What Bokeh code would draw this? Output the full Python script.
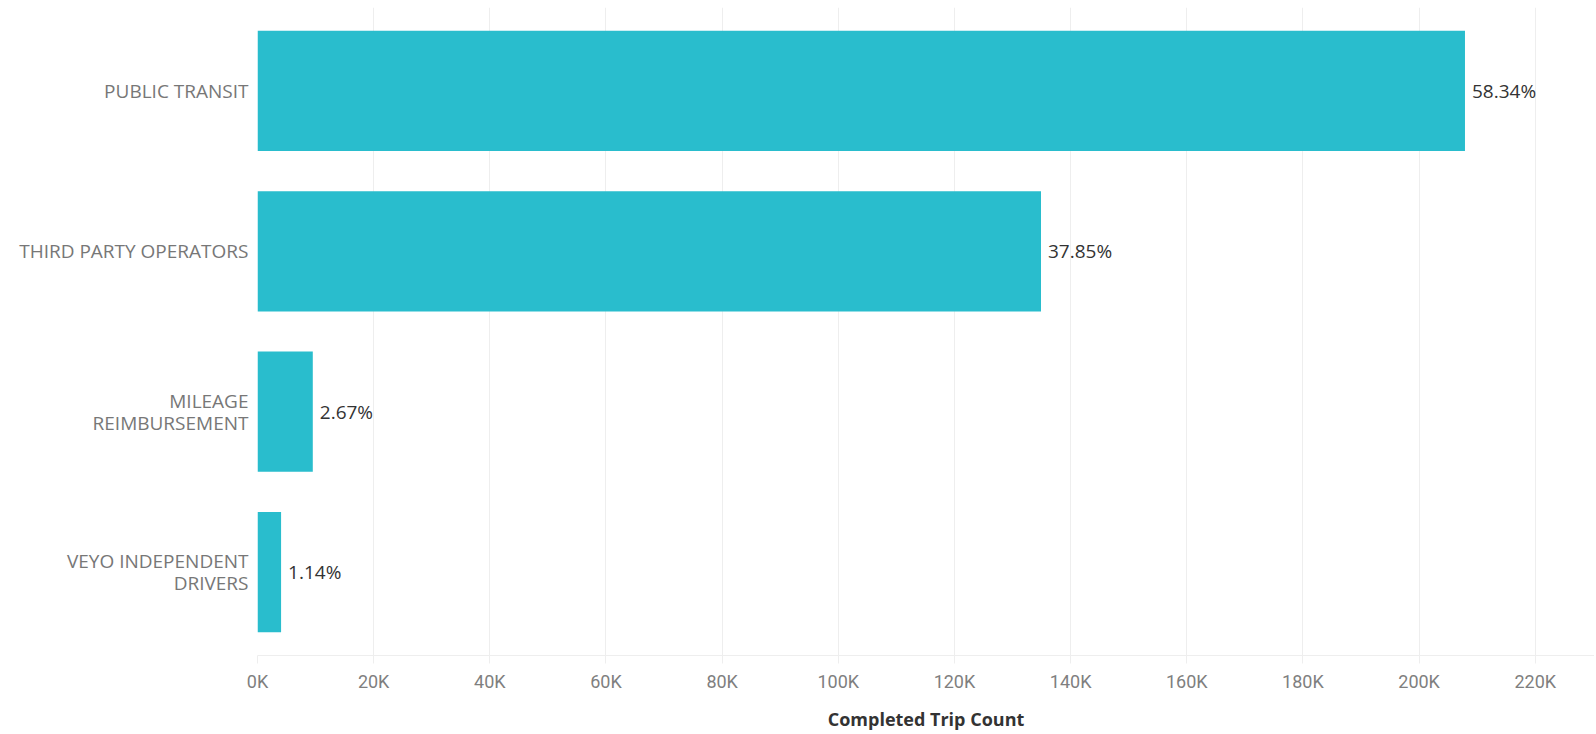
from bokeh.plotting import figure
from bokeh.models import FactorRange, Range1d, FixedTicker, ColumnDataSource, LabelSet
from bokeh.core.properties import value
from bokeh.embed import file_html
from bokeh.resources import INLINE

categories = ["PUBLIC TRANSIT", "THIRD PARTY OPERATORS", "MILEAGE\nREIMBURSEMENT", "VEYO INDEPENDENT\nDRIVERS"]
trip_counts = [207900, 134900, 9520, 4060]
pct_labels = ["58.34%", "37.85%", "2.67%", "1.14%"]
tick_values = [0, 20000, 40000, 60000, 80000, 100000, 120000, 140000, 160000, 180000, 200000, 220000]
tick_labels = ["0K", "20K", "40K", "60K", "80K", "100K", "120K", "140K", "160K", "180K", "200K", "220K"]

src = ColumnDataSource(dict(cat=categories, val=trip_counts, pct=pct_labels))

p = figure(
    width=1594, height=734,
    y_range=FactorRange(*list(reversed(categories)), range_padding=0.01),
    x_range=Range1d(0, 230200),
    output_backend="svg", toolbar_location=None,
    min_border_left=257, min_border_right=0, min_border_top=7, min_border_bottom=79,
)
p.outline_line_color = None
p.background_fill_color = "white"
p.border_fill_color = "white"

p.hbar(y="cat", right="val", left=0, height=0.75, source=src,
       fill_color="#29BDCD", line_color=None)

labels = LabelSet(x="val", y="cat", text="pct", source=src, x_offset=7, y_offset=0,
                  text_baseline="middle", text_align="left",
                  text_font=value("Open Sans"), text_font_size="19px", text_color="#333333")
p.add_layout(labels)

# grid
p.ygrid.grid_line_color = None
p.xgrid.grid_line_color = "#eeeeee"
p.xgrid.grid_line_width = 1
p.xgrid.ticker = FixedTicker(ticks=tick_values)

# x axis
p.xaxis.ticker = FixedTicker(ticks=tick_values)
p.xaxis.major_label_overrides = {v: l for v, l in zip(tick_values, tick_labels)}
p.xaxis.axis_line_color = "#eeeeee"
p.xaxis.major_tick_line_color = "#eeeeee"
p.xaxis.major_tick_out = 8
p.xaxis.major_tick_in = 0
p.xaxis.minor_tick_line_color = None
p.xaxis.major_label_text_font = "Roboto"
p.xaxis.major_label_text_font_size = "18px"
p.xaxis.major_label_text_color = "#7f7f7f"
p.xaxis.major_label_standoff = 7
p.xaxis.axis_label = "Completed Trip Count"
p.xaxis.axis_label_text_font = "Open Sans"
p.xaxis.axis_label_text_font_size = "18px"
p.xaxis.axis_label_text_font_style = "bold"
p.xaxis.axis_label_text_color = "#333333"
p.xaxis.axis_label_standoff = 12

# y axis
p.yaxis.axis_line_color = None
p.yaxis.major_tick_line_color = None
p.yaxis.minor_tick_line_color = None
p.yaxis.major_label_text_font = "Open Sans"
p.yaxis.major_label_text_font_size = "19px"
p.yaxis.major_label_text_color = "#777777"
p.yaxis.major_label_text_line_height = 0.85
p.yaxis.major_label_standoff = 3

open("out.html", "w").write(file_html(p, INLINE))
